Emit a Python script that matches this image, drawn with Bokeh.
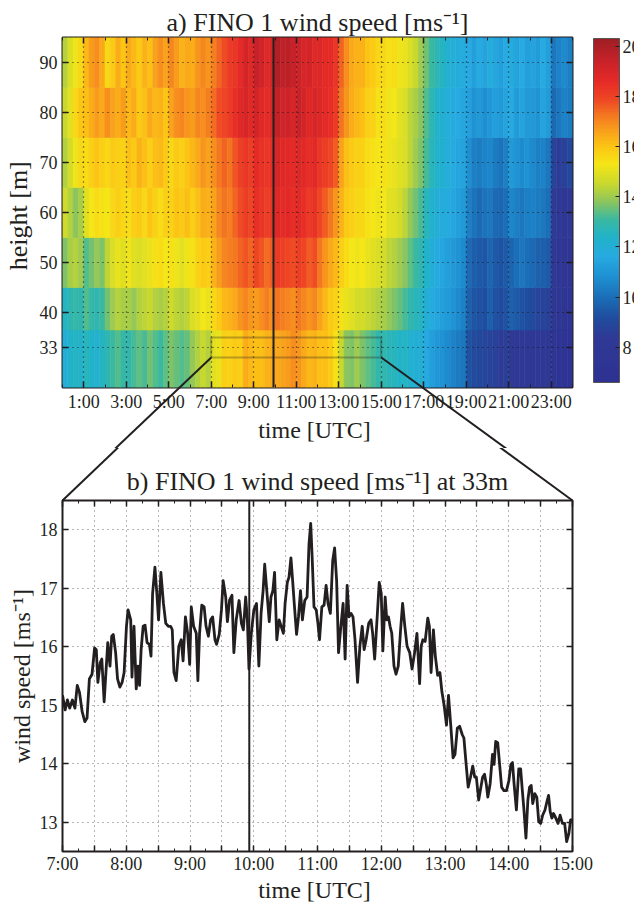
import numpy as np
from bokeh.plotting import figure
from bokeh.models import (LinearColorMapper, ColorBar, FixedTicker, Span, BoxAnnotation,
                          LinearAxis, ColumnDataSource, CustomJSTickFormatter)
from bokeh.layouts import column
from bokeh.embed import file_html
from bokeh.resources import INLINE

# ------------------------------------------------------------------ data
heights = [33, 40, 50, 60, 70, 80, 90]          # measurement heights [m]
slot_hours = 0.25                                 # time resolution of panel a)

# wind speed [m/s], quarter-hourly 0:00 ... 23:45 UTC (4 values per hour, one line per hour)
speed_33m = [12.0, 12.3, 12.5, 12.3,  12.6, 12.4, 12.2, 12.5,  12.8, 13.1, 13.3, 13.0,
             12.9, 13.2, 13.4, 13.2,  13.6, 13.3, 13.1, 13.4,  13.7, 13.5, 13.3, 13.5,
             13.9, 14.2, 14.5, 14.3,  15.0, 15.1, 15.8, 15.7,  15.9, 15.8, 16.4, 16.2,
             16.1, 16.1, 16.3, 16.4,  16.5, 16.6, 16.7, 16.9,  16.8, 16.5, 16.2, 16.3,
             16.1, 16.1, 15.9, 15.4,  14.5, 13.8, 13.7, 14.0,  13.7, 13.4, 13.2, 12.9,
             12.9, 12.7, 12.6, 12.4,  12.5, 12.2, 12.0, 12.1,  11.6, 11.3, 11.0, 10.9,
             10.7, 10.5, 10.3, 10.2,  9.3, 9.1, 9.0, 8.9,  8.8, 8.7, 8.5, 8.6,
             8.4, 8.3, 8.1, 8.2,  8.3, 8.2, 8.0, 8.1,  7.5, 7.3, 7.2, 7.1]
speed_40m = [12.5, 12.8, 13.0, 12.8,  13.3, 13.0, 12.8, 13.1,  13.6, 14.0, 14.3, 14.1,
             14.1, 13.9, 14.2, 14.4,  14.5, 14.3, 14.1, 14.3,  14.6, 14.4, 14.2, 14.4,
             14.8, 15.0, 15.3, 15.1,  15.6, 15.9, 16.2, 16.3,  16.5, 16.8, 17.0, 16.8,
             16.7, 16.9, 17.1, 16.9,  17.3, 17.1, 17.0, 16.9,  17.2, 17.0, 16.8, 17.0,
             16.6, 16.2, 15.9, 15.7,  15.4, 15.1, 14.9, 14.7,  14.7, 14.5, 14.4, 14.2,
             14.1, 13.9, 13.7, 13.5,  13.2, 12.9, 12.7, 12.5,  12.0, 11.7, 11.5, 11.3,
             11.1, 10.9, 10.7, 10.5,  9.7, 9.4, 9.3, 9.2,  9.6, 9.3, 9.1, 9.3,
             9.7, 9.5, 9.3, 9.2,  9.1, 8.9, 8.8, 8.7,  7.8, 7.5, 7.4, 7.3]
speed_50m = [13.7, 14.1, 14.3, 14.0,  13.3, 13.6, 13.9, 13.7,  14.4, 14.8, 15.1, 14.9,
             15.2, 14.9, 14.8, 15.0,  15.1, 15.4, 15.5, 15.3,  15.4, 15.2, 15.0, 15.2,
             15.4, 15.7, 15.9, 15.8,  16.3, 16.7, 17.0, 17.1,  17.2, 17.5, 17.7, 17.5,
             17.9, 17.7, 17.4, 17.6,  18.2, 18.0, 17.9, 17.8,  18.1, 17.9, 17.6, 17.8,
             17.2, 16.8, 16.5, 16.2,  15.8, 15.5, 15.3, 15.2,  15.3, 15.1, 14.9, 14.8,
             14.7, 14.4, 14.3, 14.0,  13.8, 13.4, 13.1, 12.8,  12.4, 12.0, 11.7, 11.5,
             11.3, 11.1, 10.9, 10.7,  9.9, 9.6, 9.5, 9.4,  9.8, 9.5, 9.3, 9.5,
             9.8, 10.0, 10.2, 10.0,  9.9, 9.7, 9.6, 9.5,  8.0, 7.7, 7.6, 7.5]
speed_60m = [14.6, 14.3, 13.8, 14.1,  14.9, 15.3, 15.5, 15.4,  15.3, 15.6, 15.8, 15.6,
             15.5, 15.8, 15.9, 15.6,  16.0, 15.7, 15.5, 15.8,  15.7, 16.0, 15.9, 16.1,
             15.8, 16.1, 16.4, 16.3,  16.6, 17.0, 17.3, 17.1,  17.5, 17.8, 18.1, 17.9,
             18.5, 18.3, 18.1, 18.3,  18.8, 18.6, 18.7, 18.5,  18.7, 18.5, 18.2, 18.4,
             17.9, 17.6, 17.2, 16.8,  16.3, 15.9, 15.8, 15.6,  15.6, 15.4, 15.3, 15.2,
             15.3, 15.0, 14.9, 14.7,  14.4, 13.9, 13.6, 13.2,  12.7, 12.3, 12.0, 11.8,
             11.7, 11.5, 11.3, 11.1,  10.4, 10.1, 9.9, 10.1,  10.2, 9.9, 9.8, 10.0,
             10.6, 10.4, 10.2, 10.4,  10.5, 10.3, 10.2, 10.0,  8.4, 8.1, 7.9, 8.1]
speed_70m = [14.2, 14.7, 15.2, 15.6,  15.5, 15.8, 16.0, 15.8,  15.6, 15.9, 15.8, 15.7,
             16.1, 15.9, 16.3, 16.1,  15.8, 16.1, 16.2, 15.9,  15.6, 15.9, 15.8, 16.0,
             16.2, 16.5, 16.8, 16.6,  16.9, 17.2, 17.5, 17.3,  17.7, 18.0, 18.3, 18.1,
             18.6, 18.4, 18.3, 18.5,  19.0, 18.8, 18.7, 18.6,  18.9, 18.7, 18.5, 18.7,
             18.3, 18.1, 17.9, 17.6,  16.6, 16.1, 15.9, 15.7,  15.7, 15.5, 15.4, 15.3,
             15.4, 15.2, 15.1, 14.9,  14.8, 14.4, 14.0, 13.7,  13.2, 12.7, 12.4, 12.1,
             11.9, 11.7, 11.5, 11.4,  10.8, 10.4, 10.3, 10.5,  10.6, 10.3, 10.1, 10.4,
             11.1, 10.9, 10.7, 10.9,  10.7, 10.4, 10.5, 10.2,  8.8, 8.5, 8.7, 9.0]
speed_80m = [14.5, 15.0, 15.6, 16.0,  16.1, 16.4, 16.7, 16.5,  16.9, 16.6, 16.4, 16.7,
             16.2, 16.4, 15.9, 16.1,  16.5, 16.2, 16.3, 16.0,  16.6, 16.9, 17.0, 16.8,
             16.7, 17.0, 16.9, 17.1,  17.4, 17.8, 17.9, 18.2,  18.5, 18.8, 19.0, 18.7,
             19.1, 18.8, 18.6, 18.9,  19.5, 19.2, 19.3, 19.0,  19.4, 19.1, 18.8, 19.0,
             18.9, 18.6, 18.5, 18.2,  17.3, 16.8, 16.4, 16.2,  16.1, 15.8, 15.7, 15.4,
             15.5, 15.2, 15.3, 15.0,  14.8, 14.4, 14.1, 13.8,  13.3, 12.8, 12.4, 12.1,
             11.9, 11.7, 11.6, 11.5,  11.3, 10.9, 11.1, 10.8,  11.0, 11.3, 11.1, 11.4,
             11.6, 11.2, 11.4, 11.1,  11.1, 10.9, 11.4, 11.2,  9.9, 10.2, 10.5, 10.3]
speed_90m = [14.3, 14.8, 15.2, 15.6,  16.2, 16.7, 16.9, 16.5,  15.6, 15.9, 16.4, 16.0,
             16.5, 16.2, 15.9, 16.3,  16.1, 16.6, 16.9, 16.6,  17.0, 16.7, 16.3, 16.5,
             16.4, 16.8, 17.0, 16.8,  17.1, 17.5, 17.8, 18.2,  18.3, 18.6, 19.1, 18.8,
             19.4, 19.2, 18.8, 19.0,  19.9, 19.6, 19.7, 19.4,  19.3, 19.0, 19.1, 18.8,
             18.9, 18.6, 18.6, 18.3,  17.5, 16.9, 16.5, 16.3,  16.3, 16.0, 15.9, 15.6,
             15.6, 15.4, 15.5, 15.2,  15.1, 14.8, 14.5, 14.0,  13.6, 13.1, 12.8, 12.5,
             12.2, 11.9, 11.8, 11.7,  11.6, 11.3, 11.6, 11.4,  11.8, 11.5, 11.3, 11.6,
             11.7, 11.4, 11.6, 11.3,  11.4, 11.2, 11.6, 11.3,  10.2, 10.5, 10.7, 10.4]
profile_rows = [speed_33m, speed_40m, speed_50m, speed_60m, speed_70m, speed_80m, speed_90m]

# panel b): 33 m wind speed, minutes after 07:00 UTC
line_minutes = [
    0, 2.5, 4.6, 6.8, 9.3, 11.7, 13.9, 16.0, 18.5, 21.0, 23.1, 25.3, 27.8, 30.2, 31.8, 33.3,
    35.5, 37.0, 39.2, 42.6, 44.7, 46.3, 47.8, 50.0, 51.8, 54.0, 56.1, 58.0, 60.2, 61.7, 64.2,
    65.4, 67.3, 69.4, 71.0, 72.5, 74.0, 75.9, 77.7, 79.6, 81.8, 83.3, 84.8, 87.0, 88.8, 90.4,
    92.6, 95.0, 97.2, 99.6, 101.8, 103.3, 104.9, 107.0, 109.5, 111.7, 113.5, 115.7, 117.8,
    119.7, 121.2, 123.4, 125.9, 127.4, 129.0, 131.1, 133.3, 135.1, 137.3, 139.4, 141.3, 143.5,
    145.0, 147.5, 149.6, 151.2, 153.6, 155.2, 157.3, 159.5, 161.3, 163.5,
    166.2, 168.4, 170.2, 172.4, 174.0, 175.5, 177.7, 180.1, 182.6, 184.8, 186.9, 188.8, 190.3,
    192.5, 194.6, 196.2, 198.0, 199.6, 201.7, 203.9, 205.8, 207.9, 209.5, 211.6, 213.2, 215.0,
    216.6, 218.1, 220.3, 222.1, 224.0, 225.8, 228.0, 230.2, 232.0, 233.6, 235.1, 236.7, 238.8,
    240.4, 241.9, 244.1, 246.2, 248.1, 249.9, 252.1, 254.3, 256.1, 258.0, 259.8, 262.0, 264.1,
    266.0, 267.9, 269.7, 271.6, 273.4, 275.3, 277.7, 279.9, 282.1, 283.9, 285.8, 288.2, 290.4,
    291.9, 293.8, 296.0, 298.1, 300.0, 301.5, 303.7, 305.2, 306.8, 308.3, 309.9, 312.0, 313.9,
    316.0, 318.2, 320.1, 322.2,
    324.3, 326.8, 329.0, 331.4, 333.6, 336.1, 337.6, 339.2, 341.3, 343.8, 345.3, 346.9, 349.1,
    350.9, 353.1, 355.2, 357.1, 359.2, 361.4, 363.3, 365.4, 367.6, 369.4, 371.6, 373.8, 376.2,
    377.8, 379.9, 381.8, 384.0, 386.1, 388.0, 389.5, 391.7, 393.2, 395.4, 397.2, 398.8, 400.3,
    402.5, 404.7, 406.2, 407.7, 409.6, 411.1, 413.3, 415.5, 417.9, 420.1, 422.0, 423.5, 425.0,
    427.2, 429.4, 431.2, 432.8, 434.3, 436.2, 438.0, 439.6, 441.1, 442.6, 444.5, 446.4, 448.2,
    450.1, 451.9, 454.1, 455.9, 457.5, 459.0, 460.6, 462.1, 464.3, 466.4, 468.3, 470.5, 472.6,
    474.5, 476.6, 478.2, 479.7]
line_speed = [
    15.17, 14.92, 15.09, 14.95, 15.09, 14.95, 15.34, 15.22, 14.89, 14.72, 14.78, 15.45, 15.53,
    15.98, 15.95, 15.39, 15.73, 15.79, 15.06, 16.07, 15.67, 16.18, 16.21, 15.90, 15.45, 15.31,
    15.39, 15.56, 16.35, 16.63, 16.46, 15.48, 16.35, 15.28, 15.67, 15.34, 15.95, 16.35, 16.37,
    16.07, 16.04, 15.84, 16.91, 17.36, 16.91, 16.46, 17.27, 16.74, 16.40, 16.35, 16.35, 16.29,
    15.56, 15.42, 16.01, 16.12, 15.76, 16.51, 16.23, 15.70, 16.68, 16.35, 16.23, 15.42, 16.23,
    16.71, 16.68, 16.35, 16.18, 16.46, 16.51, 16.12, 16.04, 16.21, 16.63, 17.13, 16.85, 16.43,
    16.80, 16.88, 15.90, 16.46,
    16.79, 16.40, 16.29, 16.85, 16.46, 15.62, 16.23, 16.63, 16.74, 15.67, 16.57, 16.96, 17.41,
    16.91, 16.43, 16.85, 16.96, 17.27, 16.12, 16.46, 16.35, 16.23, 16.74, 17.10, 17.19, 17.52,
    17.13, 16.74, 16.21, 16.51, 16.96, 16.46, 16.79, 16.85, 17.75, 18.11, 17.47, 16.68, 16.63,
    16.40, 16.12, 16.68, 16.71, 17.05, 16.74, 16.57, 17.47, 17.69, 17.13, 15.90, 16.35, 16.74,
    15.79, 17.05, 16.51, 16.57, 16.51, 16.12, 15.39, 16.01, 16.35, 15.95, 16.12, 16.40, 16.46,
    16.23, 15.79, 16.46, 17.10, 16.91, 15.93, 16.85, 16.46, 16.51, 16.35, 16.23, 15.67, 15.53,
    15.67, 16.29, 16.74, 16.35,
    16.01, 15.90, 15.62, 15.90, 16.23, 15.37, 16.01, 16.12, 16.09, 16.49, 16.35, 15.56, 16.29,
    15.84, 15.51, 15.56, 15.23, 15.00, 14.66, 15.17, 14.66, 14.10, 14.16, 14.61, 14.64, 14.50,
    14.44, 13.99, 13.60, 13.77, 13.96, 13.77, 13.77, 13.38, 13.54, 13.77, 13.82, 13.66, 13.43,
    13.66, 14.16, 13.99, 14.38, 14.36, 14.05, 13.60, 13.54, 13.54, 13.71, 13.99, 14.02, 13.66,
    13.21, 13.91, 13.91, 13.54, 13.21, 12.73, 13.38, 13.60, 13.63, 13.32, 13.49, 13.43, 13.01,
    12.98, 13.12, 13.21, 13.35, 13.46, 13.18, 13.07, 13.15, 13.07, 12.98, 13.12, 12.98, 12.98,
    12.67, 12.81, 13.04, 13.04]

event_hour = 9.93            # vertical marker [h UTC]
zoom_hours = (7, 15)         # time window shown in panel b)
zoom_height = (31, 35)       # height window of the 33 m level [m]

# colour scale (jet-like as printed)
cmap_values = [6.6, 8.4, 9.2, 10.0, 10.8, 11.6, 12.4, 13.1, 13.8, 14.5, 15.3, 16.0, 16.7,
               17.3, 17.9, 18.6, 19.4, 20.3]
cmap_colors = ["#2e3192", "#2f3a95", "#1f4e9f", "#1b6fb8", "#1e90d2", "#27aae1", "#21b3c8",
               "#3bb9a0", "#8cc55e", "#c8d82f", "#f5e617", "#fcc514", "#f89c1c", "#f47421",
               "#ee4624", "#e62b27", "#c92229", "#9e1f24"]

# ------------------------------------------------------------------ style / layout
FONT = "Liberation Serif"
INK = "#231f20"
TITLE_PX, TICK_PX = "26px", "18px"

W = 634
T_H, T_L, T_R, T_T, T_B = 448, 61, 62, 37, 61
B_H, B_L, B_R, B_T, B_B = 457, 59, 57, 52, 51
X1, Y1 = (0, 24), (25, 95)
X2, Y2 = (7, 15), (12.5, 18.5)

def hex2rgb(h):
    return np.array([int(h[i:i + 2], 16) for i in (1, 3, 5)], dtype=float)

ramp = np.linspace(cmap_values[0], cmap_values[-1], 256)
rgb = np.array([hex2rgb(c) for c in cmap_colors])
palette = ["#%02x%02x%02x" % tuple(int(round(np.interp(v, cmap_values, rgb[:, k]))) for k in range(3))
           for v in ramp]
mapper = LinearColorMapper(palette=palette, low=cmap_values[0], high=cmap_values[-1])

# band edges: midway between measurement heights, outer edges = axis limits
edges = [Y1[0]] + [(a + b) / 2 for a, b in zip(heights[:-1], heights[1:])] + [Y1[1]]
left, right, bottom, top, val = [], [], [], [], []
for i, row in enumerate(profile_rows):
    for j, v in enumerate(row):
        left.append(j * slot_hours)
        right.append((j + 1) * slot_hours)
        bottom.append(edges[i])
        top.append(edges[i + 1])
        val.append(v)
heat = ColumnDataSource(dict(left=left, right=right, bottom=bottom, top=top, v=val))


def style(p, title_standoff):
    p.outline_line_color = INK
    p.outline_line_width = 2
    p.background_fill_color = "white"
    p.border_fill_color = "white"
    for ax in p.axis:
        ax.axis_line_color = None
        ax.major_tick_in = 6
        ax.major_tick_out = 0
        ax.minor_tick_in = 3
        ax.minor_tick_out = 0
        ax.major_tick_line_color = INK
        ax.minor_tick_line_color = INK
        ax.major_tick_line_width = 1.5
        ax.major_label_text_font = FONT
        ax.major_label_text_font_size = TICK_PX
        ax.major_label_text_color = INK
        ax.axis_label_text_font = FONT
        ax.axis_label_text_font_style = "normal"
        ax.axis_label_text_color = INK
    p.title.text_font = FONT
    p.title.text_font_size = TITLE_PX
    p.title.text_font_style = "normal"
    p.title.text_color = INK
    p.title.align = "center"
    p.title.standoff = title_standoff


def tick_only_axis(ticker):
    return LinearAxis(ticker=ticker, formatter=CustomJSTickFormatter(code="return ''"),
                      major_label_text_font_size="0px", major_label_standoff=0,
                      axis_line_color=None, major_tick_in=6, major_tick_out=0,
                      minor_tick_in=3, minor_tick_out=0, major_tick_line_color=INK,
                      minor_tick_line_color=INK, major_tick_line_width=1.5)

# ------------------------------------------------------------------ panel a)
p1 = figure(width=W, height=T_H, x_range=X1, y_range=Y1, output_backend="svg",
            toolbar_location=None, min_border_left=T_L, min_border_right=T_R,
            min_border_top=T_T, min_border_bottom=T_B,
            title="a) FINO 1 wind speed [ms\u207b\u00b9]")
p1.quad(left="left", right="right", bottom="bottom", top="top", source=heat,
        fill_color={"field": "v", "transform": mapper},
        line_color={"field": "v", "transform": mapper}, line_width=0.6)

hour_ticks = list(range(1, 24, 2))
hour_minor = list(range(0, 25, 2))
p1.xaxis.ticker = FixedTicker(ticks=hour_ticks, minor_ticks=hour_minor)
p1.yaxis.ticker = FixedTicker(ticks=heights, minor_ticks=[])
p1.xaxis.formatter = CustomJSTickFormatter(code="return Math.round(tick) + ':00'")
p1.xaxis.axis_label = "time  [UTC]"
p1.yaxis.axis_label = "height  [m]"
p1.add_layout(tick_only_axis(FixedTicker(ticks=heights, minor_ticks=[])), "right")
p1.add_layout(tick_only_axis(FixedTicker(ticks=hour_ticks, minor_ticks=hour_minor)), "above")
for g in (p1.xgrid, p1.ygrid):
    g.level = "overlay"
    g.grid_line_color = "#141414"
    g.grid_line_dash = "1 4"
    g.grid_line_width = 1.2
    g.grid_line_alpha = 0.9
style(p1, 2)
p1.xaxis.major_label_standoff = 4
p1.xaxis.axis_label_standoff = 2
p1.xaxis.axis_label_text_font_size = "24px"
p1.yaxis.major_label_standoff = 5
p1.yaxis.axis_label_standoff = 4
p1.yaxis.axis_label_text_font_size = "26px"

p1.add_layout(Span(location=event_hour, dimension="height", line_color=INK, line_width=2))
p1.add_layout(BoxAnnotation(left=zoom_hours[0], right=zoom_hours[1], bottom=zoom_height[0],
                            top=zoom_height[1], fill_color=None, line_color=INK, line_width=2))

cb = ColorBar(color_mapper=mapper, ticker=FixedTicker(ticks=[8, 10, 12, 14, 16, 18, 20]),
              width=26, height=344, padding=0, margin=0, location=(531, 5),
              label_standoff=3, major_label_text_font=FONT, major_label_text_font_size=TICK_PX,
              major_label_text_color=INK, major_tick_in=4, major_tick_out=0,
              major_tick_line_color=INK, bar_line_color="#555555", bar_line_width=1,
              border_line_color=None, background_fill_color=None)
p1.add_layout(cb)

# ------------------------------------------------------------------ panel b)
p2 = figure(width=W, height=B_H, x_range=X2, y_range=Y2, output_backend="svg",
            toolbar_location=None, min_border_left=B_L, min_border_right=B_R,
            min_border_top=B_T, min_border_bottom=B_B,
            title="b) FINO 1 wind speed [ms\u207b\u00b9] at 33m")
hours_b = [zoom_hours[0] + m / 60 for m in line_minutes]
p2.line(hours_b, line_speed, line_color=INK, line_width=2.8, line_join="round")

half_hours = [7 + k / 2 for k in range(17)]
quarter = [7 + k / 4 for k in range(33)]
speed_ticks = [13, 14, 15, 16, 17, 18]
p2.xaxis.ticker = FixedTicker(ticks=half_hours, minor_ticks=quarter)
p2.yaxis.ticker = FixedTicker(ticks=speed_ticks, minor_ticks=[])
p2.xaxis.formatter = CustomJSTickFormatter(
    code="return Math.abs(tick - Math.round(tick)) < 1e-6 ? Math.round(tick) + ':00' : ''")
p2.xaxis.axis_label = "time  [UTC]"
p2.yaxis.axis_label = "wind speed [ms\u207b\u00b9]"
p2.add_layout(tick_only_axis(FixedTicker(ticks=speed_ticks, minor_ticks=[])), "right")
p2.add_layout(tick_only_axis(FixedTicker(ticks=half_hours, minor_ticks=quarter)), "above")
for g in (p2.xgrid, p2.ygrid):
    g.grid_line_color = "#6d6d6d"
    g.grid_line_dash = "1 4"
    g.grid_line_width = 1
style(p2, 9)
p2.xaxis.major_label_standoff = 2
p2.xaxis.axis_label_standoff = 0
p2.xaxis.axis_label_text_font_size = "24px"
p2.yaxis.major_label_standoff = 5
p2.yaxis.axis_label_standoff = 2
p2.yaxis.axis_label_text_font_size = "24px"
p2.add_layout(Span(location=event_hour, dimension="height", line_color=INK, line_width=2))

# ------------------------------------------------------------------ connector lines
# frames in page pixels (layout above: panel b) directly below panel a))
f1_left, f1_top = T_L, T_T
f1_w, f1_h = W - T_L - T_R, T_H - T_T - T_B
f2_left, f2_top = B_L, T_H + B_T
f2_w, f2_h = W - B_L - B_R, B_H - B_T - B_B

def page_from_top(x, y):
    return (f1_left + (x - X1[0]) / (X1[1] - X1[0]) * f1_w,
            f1_top + (Y1[1] - y) / (Y1[1] - Y1[0]) * f1_h)

def top_from_page(px, py):
    return (X1[0] + (px - f1_left) / f1_w * (X1[1] - X1[0]),
            Y1[1] - (py - f1_top) / f1_h * (Y1[1] - Y1[0]))

def page_from_bot(x, y):
    return (f2_left + (x - X2[0]) / (X2[1] - X2[0]) * f2_w,
            f2_top + (Y2[1] - y) / (Y2[1] - Y2[0]) * f2_h)

def bot_from_page(px, py):
    return (X2[0] + (px - f2_left) / f2_w * (X2[1] - X2[0]),
            Y2[1] - (py - f2_top) / f2_h * (Y2[1] - Y2[0]))

a_x0, a_y0, a_x1, a_y1 = [], [], [], []
b_x0, b_y0, b_x1, b_y1 = [], [], [], []
for hx, bx in ((zoom_hours[0], X2[0]), (zoom_hours[1], X2[1])):
    corner_a = page_from_top(hx, zoom_height[0])
    corner_b = page_from_bot(bx, Y2[1])
    ta = top_from_page(*corner_b)
    a_x0.append(hx); a_y0.append(zoom_height[0]); a_x1.append(ta[0]); a_y1.append(ta[1])
    ba = bot_from_page(*corner_a)
    b_x0.append(bx); b_y0.append(Y2[1]); b_x1.append(ba[0]); b_y1.append(ba[1])

p1.segment(x0=a_x0, y0=a_y0, x1=a_x1, y1=a_y1, line_color=INK, line_width=2, level="overlay")
p2.segment(x0=b_x0, y0=b_y0, x1=b_x1, y1=b_y1, line_color=INK, line_width=2, level="overlay")

layout = column(p1, p2, spacing=0)
open("out.html", "w").write(file_html(layout, INLINE))
